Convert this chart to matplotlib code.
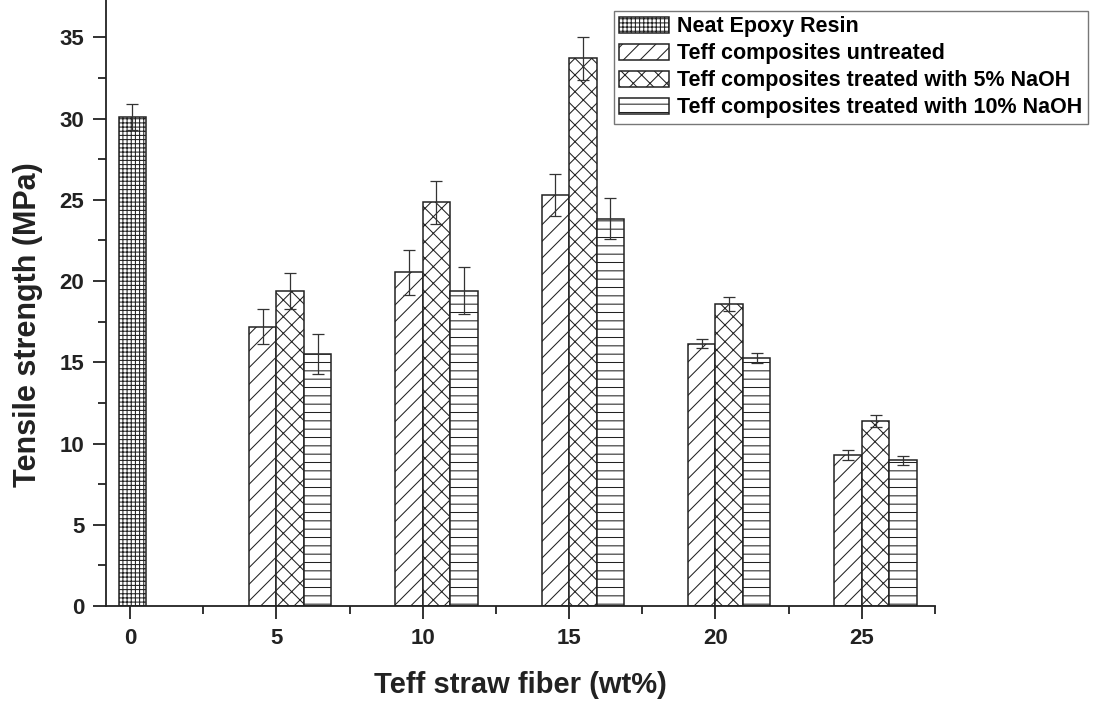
import matplotlib
matplotlib.use("Agg")
import matplotlib.pyplot as plt
import numpy as np
from matplotlib.ticker import MultipleLocator

# data
fiber = np.array([5, 10, 15, 20, 25])
neat_pos = 0.08
neat = 30.1
neat_err = 0.8
untreated = [17.2, 20.55, 25.3, 16.15, 9.3]
untreated_err = [1.1, 1.38, 1.3, 0.27, 0.33]
naoh5 = [19.4, 24.85, 33.7, 18.6, 11.4]
naoh5_err = [1.12, 1.33, 1.33, 0.43, 0.38]
naoh10 = [15.5, 19.4, 23.85, 15.25, 8.97]
naoh10_err = [1.22, 1.45, 1.25, 0.3, 0.28]

labels = ["Neat Epoxy Resin", "Teff composites untreated",
          "Teff composites treated with 5% NaOH",
          "Teff composites treated with 10% NaOH"]

plt.rcParams['font.family'] = ['Liberation Sans', 'DejaVu Sans']
plt.rcParams['font.weight'] = 'bold'
plt.rcParams['hatch.linewidth'] = 0.75
plt.rcParams['hatch.color'] = '#222222'

fig = plt.figure(figsize=(10.94, 7.02), dpi=100)
ax = fig.add_axes([106 / 1094, 96 / 702, (935 - 106) / 1094, 606 / 702])

w = 0.94
bar_kw = dict(width=w, color='white', edgecolor='#222222', linewidth=1.1)
err_kw = dict(fmt='none', ecolor='#333333', elinewidth=0.9, capsize=4.6, capthick=0.9)

b0 = ax.bar(neat_pos, neat, hatch='++++', **bar_kw)
b1 = ax.bar(fiber - w / 2, untreated, hatch='//', **bar_kw)
b2 = ax.bar(fiber + w / 2, naoh5, hatch='xx', **bar_kw)
b3 = ax.bar(fiber + 1.5 * w, naoh10, hatch='--', **bar_kw)

ax.errorbar(neat_pos, neat, yerr=neat_err, **err_kw)
ax.errorbar(fiber - w / 2, untreated, yerr=untreated_err, **err_kw)
ax.errorbar(fiber + w / 2, naoh5, yerr=naoh5_err, **err_kw)
ax.errorbar(fiber + 1.5 * w, naoh10, yerr=naoh10_err, **err_kw)

ax.set_xlim(-0.82, 27.5)
ax.set_ylim(0, 37.3)
ax.xaxis.set_major_locator(MultipleLocator(5))
ax.xaxis.set_minor_locator(MultipleLocator(2.5))
ax.yaxis.set_major_locator(MultipleLocator(5))
ax.yaxis.set_minor_locator(MultipleLocator(2.5))

for s in ['top', 'right']:
    ax.spines[s].set_visible(False)
for s in ['left', 'bottom']:
    ax.spines[s].set_linewidth(1.3)
    ax.spines[s].set_color('#222222')

ax.tick_params(which='major', direction='out', length=9.5, width=1.3, color='#222222',
               labelsize=16, labelcolor='#222222')
ax.tick_params(which='minor', direction='out', length=5.5, width=1.3, color='#222222')
ax.tick_params(axis='y', which='major', pad=6)
ax.tick_params(axis='x', which='major', pad=6)

ax.set_xlabel("Teff straw fiber (wt%)", fontsize=21, fontweight='bold', color='#222222',
              labelpad=16)
ax.set_ylabel("Tensile strength (MPa)", fontsize=22, fontweight='bold', color='#222222',
              labelpad=12)
ax.yaxis.label.set_y(0.465)

leg = fig.legend([b0, b1, b2, b3], labels, loc='upper right',
                 bbox_to_anchor=(1088 / 1094, 1 - 11 / 702),
                 fontsize=15.5, frameon=True, fancybox=False, handlelength=2.3,
                 handleheight=0.8, labelspacing=0.28, borderpad=0.25,
                 handletextpad=0.4, borderaxespad=0)
leg.get_frame().set_edgecolor('#555555')
leg.get_frame().set_linewidth(1.0)

fig.savefig("out.png", dpi=100)
